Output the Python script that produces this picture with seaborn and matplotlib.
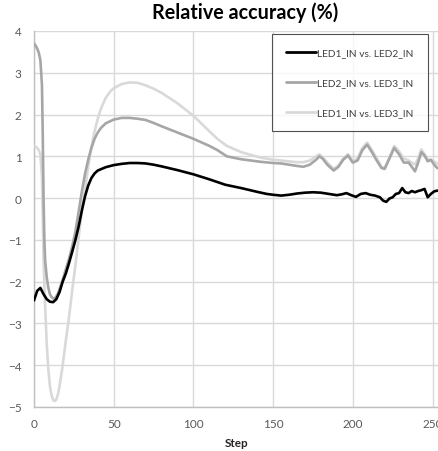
import matplotlib
matplotlib.use("Agg")
import matplotlib.pyplot as plt
import seaborn as sns
import pandas as pd

# ---------------- data ----------------
series_names = ["LED1_IN vs. LED2_IN", "LED2_IN vs. LED3_IN", "LED1_IN vs. LED3_IN"]

steps_black = [0, 2, 4, 6, 8, 10, 12, 14, 16, 18, 20, 22, 24, 26, 28, 30, 32, 34, 36, 38, 40,
               45, 50, 55, 60, 65, 70, 75, 80, 90, 100, 110, 120, 130, 140, 146, 150, 155, 160,
               165, 170, 175, 180, 185, 190, 193, 196, 199, 202, 205, 208, 211, 214, 217, 219,
               221, 223, 225, 227, 229, 231, 233, 235, 237, 239, 241, 243, 245, 247, 249, 251,
               253, 256]
vals_black = [-2.45, -2.22, -2.15, -2.3, -2.42, -2.48, -2.49, -2.42, -2.25, -2.0, -1.8, -1.55,
              -1.28, -1.0, -0.68, -0.3, 0.04, 0.3, 0.48, 0.59, 0.66,
              0.74, 0.79, 0.82, 0.84, 0.84, 0.83, 0.8, 0.76, 0.67, 0.57, 0.45, 0.32, 0.24, 0.15,
              0.1, 0.08, 0.06, 0.08, 0.11, 0.13, 0.14, 0.13, 0.1, 0.07, 0.09, 0.12, 0.07, 0.03,
              0.1, 0.12, 0.08, 0.06, 0.02, -0.06, -0.09, -0.01, 0.02, 0.1, 0.12, 0.24, 0.14,
              0.12, 0.17, 0.14, 0.17, 0.19, 0.22, 0.02, 0.1, 0.16, 0.18, 0.16]

steps_mid = [0, 1, 2, 3, 4, 5, 5.5, 6, 6.5, 7, 8, 9, 10, 11, 12, 13, 14, 15, 16, 18, 20, 22, 24,
             26, 28, 30, 32, 34, 36, 38, 40, 42, 45, 50, 55, 60, 65, 70, 75, 80, 90, 100, 110, 115,
             121, 130, 142, 150, 155, 160, 165, 169, 173, 177, 179, 181, 184, 188, 191, 194, 197,
             200, 203, 206, 209, 212, 215, 218, 220, 223, 226, 229, 232, 235, 237, 239, 241, 243,
             245, 247, 249, 251, 253, 256]
vals_mid = [3.7, 3.65, 3.58, 3.48, 3.3, 2.7, 1.5, 0.0, -1.0, -1.5, -1.9, -2.15, -2.3, -2.37, -2.4,
            -2.4, -2.35, -2.28, -2.18, -1.95, -1.7, -1.45, -1.15, -0.8, -0.33, 0.15, 0.58, 0.92,
            1.2, 1.42, 1.57, 1.68, 1.79, 1.88, 1.92, 1.92, 1.9, 1.87, 1.8, 1.72, 1.57, 1.42, 1.25,
            1.15, 1.0, 0.93, 0.87, 0.84, 0.83, 0.8, 0.77, 0.75, 0.8, 0.92, 1.0, 0.95, 0.8, 0.66,
            0.75, 0.92, 1.02, 0.85, 0.9, 1.15, 1.28, 1.1, 0.9, 0.72, 0.7, 0.95, 1.2, 1.05, 0.85,
            0.85, 0.75, 0.64, 0.85, 1.1, 1.02, 0.88, 0.92, 0.8, 0.72, 0.68]

steps_light = [0, 1, 2, 3, 4, 5, 5.5, 6, 7, 8, 9, 10, 11, 12, 13, 14, 15, 16, 17, 18, 20, 22, 24,
               26, 28, 30, 32, 34, 36, 38, 40, 42, 45, 48, 50, 55, 60, 65, 70, 75, 80, 90, 100,
               110, 115, 121, 130, 142, 150, 155, 160, 165, 169, 173, 177, 179, 181, 184, 188,
               191, 194, 197, 200, 203, 206, 209, 212, 215, 218, 220, 223, 226, 229, 232, 235,
               237, 239, 241, 243, 245, 247, 249, 251, 253, 256]
vals_light = [1.25, 1.24, 1.2, 1.15, 1.05, 0.5, -0.5, -1.5, -2.6, -3.5, -4.1, -4.5, -4.72, -4.83,
              -4.86, -4.82, -4.7, -4.5, -4.25, -4.0, -3.4, -2.85, -2.2, -1.6, -0.95, -0.3, 0.2,
              0.75, 1.22, 1.6, 1.9, 2.14, 2.4, 2.56, 2.63, 2.73, 2.77, 2.76, 2.7, 2.62, 2.52, 2.27,
              1.97, 1.6, 1.42, 1.25, 1.1, 0.97, 0.92, 0.9, 0.88, 0.86, 0.86, 0.9, 1.0, 1.05,
              0.98, 0.85, 0.7, 0.78, 0.95, 1.05, 0.88, 0.95, 1.2, 1.33, 1.15, 0.95, 0.75, 0.72,
              0.98, 1.25, 1.12, 0.95, 0.9, 0.85, 0.8, 0.95, 1.17, 1.05, 0.93, 0.9, 0.88, 0.82,
              0.8]

x_ticks = [0, 50, 100, 150, 200, 250]
y_ticks = [-5, -4, -3, -2, -1, 0, 1, 2, 3, 4]
title_text = "Relative accuracy (%)"
x_label = "Step"

colors = ["#000000", "#a6a6a6", "#d9d9d9"]

# ---------------- build table ----------------
frames = []
for name, s, v in zip(series_names, [steps_black, steps_mid, steps_light],
                      [vals_black, vals_mid, vals_light]):
    frames.append(pd.DataFrame({"Step": s, "Value": v, "Series": name}))
df = pd.concat(frames, ignore_index=True)

# ---------------- plot ----------------
sns.set_style("white")
plt.rcParams["font.family"] = ["Lato", "DejaVu Sans"]

W, H = 438, 452
fig = plt.figure(figsize=(W / 100, H / 100), dpi=100)
x0_px, x_end_px = 34, 34 + 265 * 1.594
y_top_px, y_bot_px = 32, 408
ax = fig.add_axes([x0_px / W, 1 - y_bot_px / H, (x_end_px - x0_px) / W, (y_bot_px - y_top_px) / H])

sns.lineplot(data=df, x="Step", y="Value", hue="Series", hue_order=series_names,
             palette=colors, sort=False, estimator=None, ax=ax, linewidth=1.9, legend=True)

lines = ax.get_lines()
for ln, z in zip(lines[:3], [5, 4, 3]):
    ln.set_zorder(z)
    ln.set_solid_capstyle("round")
    ln.set_solid_joinstyle("round")

ax.set_xlim(0, 265)
ax.set_ylim(-5, 4)
ax.set_xticks(x_ticks)
ax.set_yticks(y_ticks)
ax.grid(True, color="#d9d9d9", linewidth=1.0)
ax.set_axisbelow(True)
for sp in ["top", "right"]:
    ax.spines[sp].set_visible(False)
for sp in ["left", "bottom"]:
    ax.spines[sp].set_color("#bfbfbf")
    ax.spines[sp].set_linewidth(1.0)
ax.tick_params(axis="both", labelsize=8.5, labelcolor="#595959", color="#bfbfbf", length=3,
               width=1.0)
ax.tick_params(axis="x", length=0, pad=8)
ax.tick_params(axis="y", pad=6)
ax.set_xlabel("")
ax.set_ylabel("")

fig.text(237 / W, 1 - 444 / H, x_label, ha="center", va="center", fontsize=8.5,
         fontweight="bold", color="#262626")
fig.text(245 / W, 1 - 13 / H, title_text, ha="center", va="center", fontsize=14.2,
         fontweight="bold", color="#000000")

leg = ax.legend(loc="upper left", bbox_to_anchor=(272 / W, 1 - 35 / H),
                bbox_transform=fig.transFigure, frameon=True, fancybox=False,
                fontsize=7.3, labelspacing=2.05, handlelength=2.9, handletextpad=0.15,
                borderpad=1.4, borderaxespad=0)
leg.get_frame().set_edgecolor("#262626")
leg.get_frame().set_linewidth(0.8)
for t in leg.get_texts():
    t.set_color("#404040")
for h in leg.get_lines():
    h.set_linewidth(2.0)

fig.savefig("out.png", dpi=100)
